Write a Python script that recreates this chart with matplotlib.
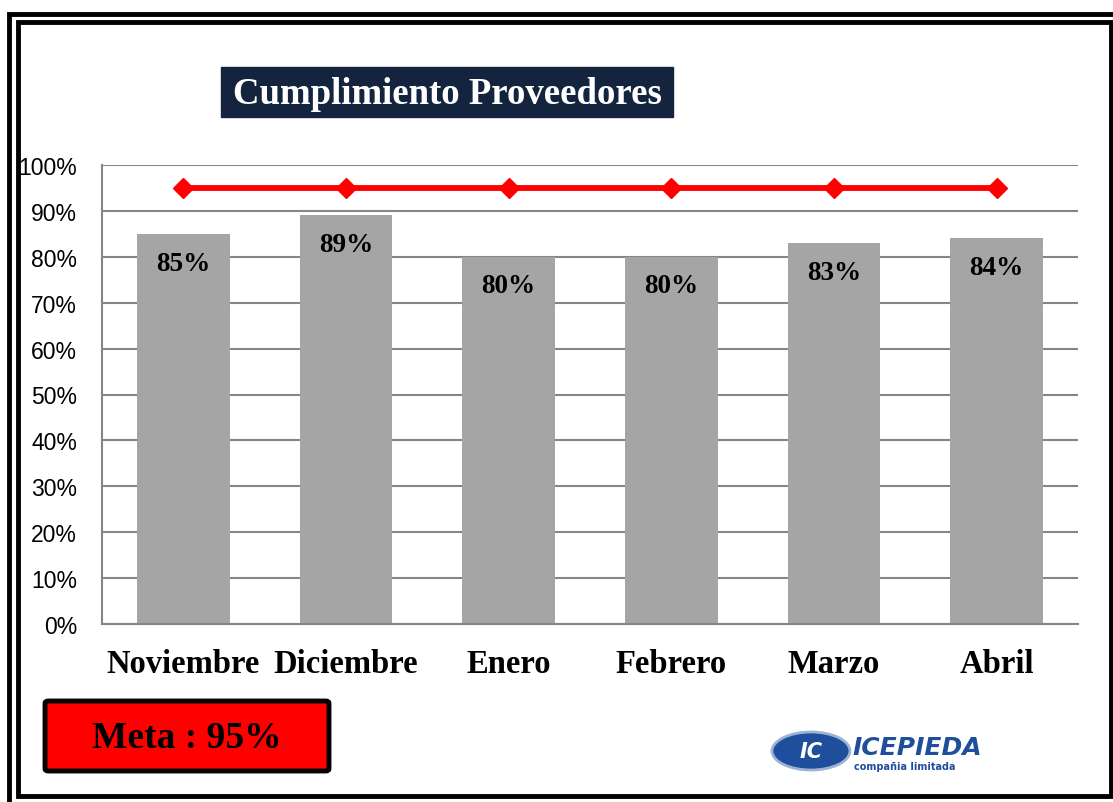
import numpy as np
import matplotlib.pyplot as plt
from matplotlib.patches import Rectangle, FancyBboxPatch, Ellipse
from matplotlib.ticker import PercentFormatter

# datos
meses = ['Noviembre', 'Diciembre', 'Enero', 'Febrero', 'Marzo', 'Abril']
cumplimiento = [85, 89, 80, 80, 83, 84]
meta = [95, 95, 95, 95, 95, 95]
titulo = 'Cumplimiento Proveedores'
texto_meta = 'Meta : 95%'

W, H = 1113, 803
fig = plt.figure(figsize=(W / 100, H / 100), dpi=100)

def fx(x):
    return x / W

def fy(y):
    return 1 - y / H

serif = 'Liberation Serif'

# bordes dobles
fig.patches.append(Rectangle((fx(9), fy(815)), fx(1115 - 9), (815 - 15) / H,
                             transform=fig.transFigure, fill=False,
                             edgecolor='black', lw=3.5))
fig.patches.append(Rectangle((fx(18), fy(797)), fx(1111 - 18), (797 - 23) / H,
                             transform=fig.transFigure, fill=False,
                             edgecolor='black', lw=3.5))

# ejes
ax = fig.add_axes([fx(102), fy(625), fx(1078 - 102), (625 - 166) / H])
x = np.arange(len(meses))
ax.bar(x, cumplimiento, width=0.57, color='#A5A5A5', zorder=2)
ax.plot(x, meta, color='#FF0000', lw=4.2, marker='D', markersize=10.5, zorder=3)

for xi, v in zip(x, cumplimiento):
    ax.annotate(f'{v}%', (xi, v), xytext=(0, -21), textcoords='offset points',
                ha='center', va='center', fontsize=19.5, fontweight='bold',
                family=serif, zorder=4)

ax.set_xlim(-0.5, len(meses) - 0.5)
ax.set_ylim(0, 100)
ax.set_yticks(np.arange(0, 101, 10))
ax.yaxis.set_major_formatter(PercentFormatter(decimals=0))
ax.set_xticks(x)
ax.set_xticklabels(meses, fontsize=23.5, fontweight='bold', family=serif)
ax.tick_params(axis='x', length=0, pad=17)
ax.tick_params(axis='y', length=0, pad=18, labelsize=16.5)
for lbl in ax.get_yticklabels():
    lbl.set_family('Liberation Sans')
ax.grid(axis='y', color='#868686', lw=1.5, zorder=1)
for s in ['top', 'right']:
    ax.spines[s].set_visible(False)
for s in ['left', 'bottom']:
    ax.spines[s].set_color('#868686')
    ax.spines[s].set_linewidth(1.5)

# titulo
fig.patches.append(Rectangle((fx(221), fy(118)), fx(673 - 221), (118 - 68) / H,
                             transform=fig.transFigure, color='#14243F'))
fig.text(fx(447), fy(94), titulo, color='white', fontsize=26.5,
         fontweight='bold', family=serif, ha='center', va='center')

# cuadro meta
fig.patches.append(FancyBboxPatch((fx(45), fy(772)), fx(329 - 45), (772 - 702) / H,
                                  boxstyle='round,pad=0,rounding_size=0.003',
                                  transform=fig.transFigure, facecolor='#FF0000',
                                  edgecolor='black', lw=3.5))
fig.text(fx(187), fy(739), texto_meta, fontsize=27, fontweight='bold',
         family=serif, ha='center', va='center')

# logo
fig.patches.append(Ellipse((fx(811), fy(752)), fx(78), 38 / H,
                           transform=fig.transFigure, facecolor='#1F4E9C',
                           edgecolor='#9DB3D6', lw=2))
fig.text(fx(811), fy(752), 'IC', color='white', fontsize=15, fontweight='bold',
         style='italic', ha='center', va='center')
fig.text(fx(852), fy(748), 'ICEPIEDA', color='#1F4E9C', fontsize=18,
         fontweight='bold', style='italic', ha='left', va='center')
fig.text(fx(905), fy(767), 'compañia limitada', color='#1F4E9C', fontsize=7,
         fontweight='bold', ha='center', va='center')

fig.savefig('out.png', dpi=100)
